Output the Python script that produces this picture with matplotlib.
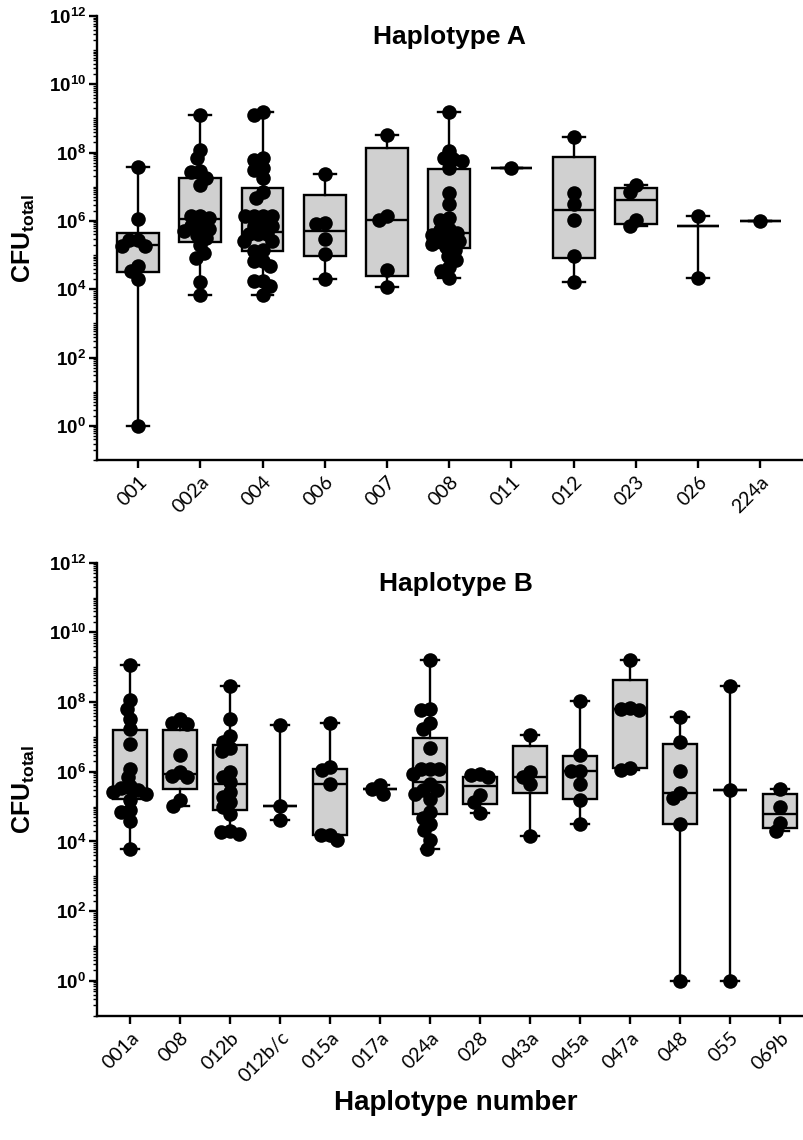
import numpy as np
import matplotlib
matplotlib.use('Agg')
import matplotlib.pyplot as plt
from matplotlib.ticker import LogLocator, FuncFormatter, NullFormatter

plt.rcParams['font.family'] = ['Liberation Sans', 'DejaVu Sans']
plt.rcParams['mathtext.fontset'] = 'custom'
plt.rcParams['mathtext.rm'] = 'Liberation Sans'
plt.rcParams['mathtext.bf'] = 'Liberation Sans:bold'
plt.rcParams['mathtext.it'] = 'Liberation Sans:italic'

# Haplotype A -- values are log10(CFU total)
a_labels = ['001', '002a', '004', '006', '007', '008', '011', '012', '023', '026', '224a']
a_log_cfu = [
    [7.59, 6.05, 5.44, 5.44, 5.27, 5.27, 4.67, 4.52, 4.31, 0.0],
    [9.10, 8.08, 7.84, 7.45, 7.42, 7.25, 7.06, 6.13, 6.13, 6.08, 5.85, 5.84, 5.75, 5.69,
     5.60, 5.50, 5.30, 5.06, 4.91, 4.20, 3.84],
    [9.20, 9.10, 7.84, 7.79, 7.55, 7.48, 7.25, 6.86, 6.67, 6.13, 6.13, 6.13, 6.13, 5.85,
     5.85, 5.85, 5.62, 5.62, 5.62, 5.40, 5.40, 5.16, 5.12, 4.82, 4.82, 4.67, 4.23, 4.23,
     4.08, 3.84],
    [7.38, 5.94, 5.90, 5.47, 5.04, 4.31],
    [8.52, 6.13, 6.04, 4.55, 4.07],
    [9.20, 8.06, 7.84, 7.81, 7.74, 7.55, 6.83, 6.50, 6.08, 6.04, 5.77, 5.72, 5.66, 5.60,
     5.50, 5.45, 5.40, 5.33, 5.25, 5.16, 4.98, 4.85, 4.65, 4.52, 4.33],
    [7.55],
    [8.47, 6.83, 6.50, 6.04, 4.98, 4.20],
    [7.06, 6.86, 6.04, 5.84],
    [6.15, 4.33],
    [6.01],
]
a_q1 = [4.49, 5.37, 5.12, 4.98, 4.40, 5.21, 7.55, 4.91, 5.91, 5.84, 6.01]
a_med = [5.28, 6.05, 5.67, 5.71, 6.04, 5.66, 7.55, 6.33, 6.62, 5.84, 6.01]
a_q3 = [5.66, 7.25, 6.96, 6.77, 8.13, 7.52, 7.55, 7.87, 6.96, 5.84, 6.01]

# Haplotype B -- values are log10(CFU total)
b_labels = ['001a', '008', '012b', '012b/c', '015a', '017a', '024a', '028', '043a',
            '045a', '047a', '048', '055', '069b']
b_log_cfu = [
    [9.06, 8.05, 7.81, 7.52, 7.24, 6.81, 6.09, 5.84, 5.58, 5.53, 5.48, 5.41, 5.36, 5.18,
     4.89, 4.84, 4.60, 3.79],
    [7.52, 7.40, 7.36, 6.49, 6.00, 5.87, 5.84, 5.18, 5.02],
    [8.47, 7.52, 7.02, 6.86, 6.69, 6.60, 6.00, 5.85, 5.70, 5.42, 5.27, 5.13, 4.99, 4.80,
     4.30, 4.27, 4.22],
    [7.34, 5.01, 4.62],
    [7.40, 6.14, 6.04, 5.64, 4.20, 4.20, 4.03],
    [5.61, 5.51, 5.37],
    [9.20, 7.81, 7.77, 7.40, 7.22, 6.67, 6.09, 6.09, 6.09, 5.95, 5.64, 5.47, 5.47, 5.35,
     5.22, 4.84, 4.68, 4.51, 4.32, 4.03, 3.79],
    [5.94, 5.90, 5.85, 5.32, 5.13, 4.82],
    [7.05, 6.00, 5.84, 5.64, 4.16],
    [8.03, 6.49, 6.01, 6.01, 5.64, 5.18, 4.51],
    [9.20, 7.82, 7.79, 7.77, 6.12, 6.06],
    [7.56, 6.86, 6.03, 5.40, 5.25, 4.49, 0.0],
    [8.47, 5.47, 0.0],
    [5.51, 4.99, 4.53, 4.30],
]
b_q1 = [5.22, 5.51, 4.89, 5.01, 4.20, 5.51, 4.80, 5.08, 5.39, 5.22, 6.12, 4.51, 5.47, 4.40]
b_med = [5.40, 5.95, 5.66, 5.01, 5.66, 5.51, 5.70, 5.59, 5.84, 6.01, 7.79, 5.40, 5.47, 4.78]
b_q3 = [7.19, 7.21, 6.78, 5.01, 6.09, 5.51, 6.98, 5.85, 6.73, 6.44, 8.63, 6.81, 5.47, 5.37]


def swarm_x(ax, pos, logvals, sep=9.0):
    # simple beeswarm in pixel space, returns x positions in data units
    vals = np.power(10.0, np.asarray(logvals))
    ys = ax.transData.transform(np.column_stack([np.full(len(vals), pos), vals]))[:, 1]
    x0 = ax.transData.transform((pos, 1.0))[0]
    unit = ax.transData.transform((pos + 1, 1.0))[0] - x0
    placed = []
    xs = np.zeros(len(ys))
    for i in np.argsort(-ys, kind='stable'):
        y = ys[i]
        cands = [0.0]
        for px, py in placed:
            dy = y - py
            if abs(dy) < sep:
                dx = np.sqrt(sep ** 2 - dy ** 2)
                cands += [px - dx, px + dx]
        ok = [c for c in cands
              if all((c - px) ** 2 + (y - py) ** 2 >= sep ** 2 - 1e-6 for px, py in placed)]
        best = sorted(ok, key=lambda c: (round(abs(c), 6), c))[0]
        placed.append((best, y))
        xs[i] = pos + best / unit
    return xs


def draw_panel(ax, labels, log_cfu, q1, med, q3, title, xmax):
    n = len(labels)
    ax.set_yscale('log')
    ax.set_ylim(0.1, 1e12)
    ax.set_xlim(-0.66, xmax)
    stats = []
    for k in range(n):
        stats.append(dict(med=10 ** med[k], q1=10 ** q1[k], q3=10 ** q3[k],
                          whislo=10 ** min(log_cfu[k]), whishi=10 ** max(log_cfu[k]),
                          fliers=[]))
    ax.bxp(stats, positions=range(n), widths=0.67, patch_artist=True, showfliers=False,
           capwidths=0.35, manage_ticks=False,
           boxprops=dict(facecolor='#d0d0d0', edgecolor='black', linewidth=1.7),
           medianprops=dict(color='black', linewidth=1.7),
           whiskerprops=dict(color='black', linewidth=1.7),
           capprops=dict(color='black', linewidth=1.7))
    for k in range(n):
        xs = swarm_x(ax, k, log_cfu[k])
        ax.scatter(xs, np.power(10.0, log_cfu[k]), s=110, color='black', linewidths=0, zorder=3)

    ax.spines['top'].set_visible(False)
    ax.spines['right'].set_visible(False)
    ax.spines['left'].set_linewidth(1.7)
    ax.spines['bottom'].set_linewidth(1.7)
    ax.yaxis.set_major_locator(LogLocator(base=100))
    ax.yaxis.set_minor_locator(LogLocator(base=10, subs=np.arange(1, 10), numticks=40))
    ax.yaxis.set_major_formatter(FuncFormatter(lambda v, p: r'$\mathbf{10^{%d}}$' % round(np.log10(v))))
    ax.yaxis.set_minor_formatter(NullFormatter())
    ax.tick_params(axis='y', which='major', length=6, width=1.7, labelsize=13.5, pad=2)
    ax.tick_params(axis='y', which='minor', length=3, width=1.0)
    ax.tick_params(axis='x', which='major', length=6, width=1.7)
    ax.set_xticks(range(n))
    ax.set_xticklabels(labels, rotation=45, ha='right', rotation_mode='anchor',
                       fontsize=14, family=['Lato', 'DejaVu Sans'])
    ax.text(0.5, 0.953, title, transform=ax.transAxes, ha='center', va='center',
            fontsize=19, fontweight='bold')
    ax.set_ylabel(r'$\mathbf{CFU_{total}}$', fontsize=18)


fig = plt.figure(figsize=(8.04, 11.4), dpi=100)
ax_a = fig.add_axes([0.1206, 0.5965, 0.877, 0.3895])
ax_b = fig.add_axes([0.1206, 0.109, 0.893, 0.3974])

draw_panel(ax_a, a_labels, a_log_cfu, a_q1, a_med, a_q3, 'Haplotype A', 10.67)
draw_panel(ax_b, b_labels, b_log_cfu, b_q1, b_med, b_q3, 'Haplotype B', 13.7)
ax_a.yaxis.set_label_coords(-0.085, 0.5)
ax_b.yaxis.set_label_coords(-0.083, 0.5)

fig.text(456 / 804, 1 - 1103 / 1140, 'Haplotype number', ha='center', va='center',
         fontsize=20, fontweight='bold')

fig.savefig('out.png', dpi=100)
